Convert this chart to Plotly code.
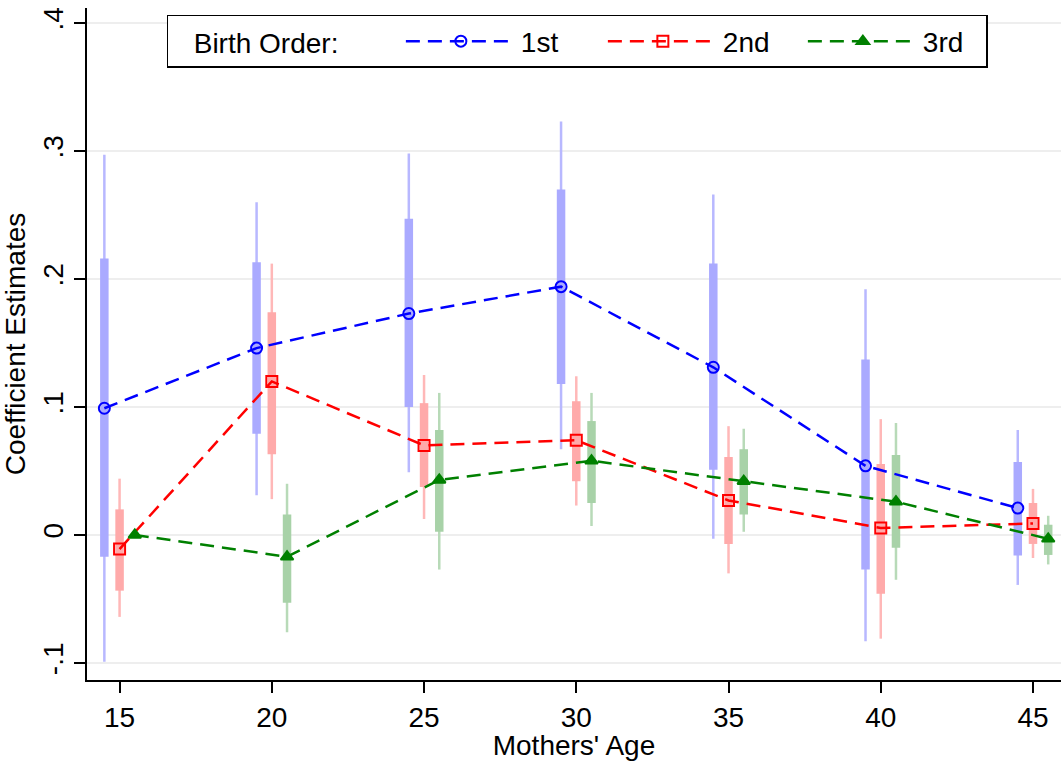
import plotly.graph_objects as go

ages = [15, 20, 25, 30, 35, 40, 45]

first_est = [0.099, 0.146, 0.173, 0.194, 0.131, 0.054, 0.021]
first_hi90 = [0.216, 0.213, 0.247, 0.270, 0.212, 0.137, 0.057]
first_lo90 = [-0.017, 0.079, 0.100, 0.118, 0.051, -0.027, -0.016]
first_hi95 = [0.297, 0.260, 0.298, 0.323, 0.266, 0.192, 0.082]
first_lo95 = [-0.099, 0.031, 0.049, 0.067, -0.003, -0.083, -0.039]

second_est = [-0.011, 0.120, 0.070, 0.074, 0.027, 0.0055, 0.009]
second_hi90 = [0.020, 0.174, 0.103, 0.1045, 0.061, 0.0555, 0.025]
second_lo90 = [-0.0435, 0.063, 0.0375, 0.042, -0.007, -0.046, -0.007]
second_hi95 = [0.044, 0.212, 0.125, 0.124, 0.085, 0.0905, 0.036]
second_lo95 = [-0.064, 0.028, 0.0125, 0.023, -0.030, -0.081, -0.018]

third_est = [0.0, -0.017, 0.043, 0.058, 0.042, 0.026, -0.003]
third_hi90 = [None, 0.016, 0.082, 0.089, 0.067, 0.0625, 0.008]
third_lo90 = [None, -0.053, 0.0025, 0.025, 0.016, -0.010, -0.0156]
third_hi95 = [None, 0.040, 0.111, 0.111, 0.083, 0.0875, 0.015]
third_lo95 = [None, -0.076, -0.027, 0.007, 0.0025, -0.035, -0.023]

y_tickvals = [-0.1, 0, 0.1, 0.2, 0.3, 0.4]
y_ticktext = ["-.1", "0", ".1", ".2", ".3", ".4"]

FONT = "Liberation Sans, Arial, sans-serif"
FS = 28
NB = "\u00a0"

series = [
    dict(name="1st", off=-0.5, est=first_est, hi90=first_hi90, lo90=first_lo90,
         hi95=first_hi95, lo95=first_lo95, color="#0000ff",
         c90="#aaaaff", c95="#b8b8ff", symbol="circle-open", lw=77),
    dict(name="2nd", off=0.0, est=second_est, hi90=second_hi90, lo90=second_lo90,
         hi95=second_hi95, lo95=second_lo95, color="#ff0000",
         c90="#ffaaaa", c95="#ffb8b8", symbol="square-open", lw=75),
    dict(name="3rd", off=0.5, est=third_est, hi90=third_hi90, lo90=third_lo90,
         hi95=third_hi95, lo95=third_lo95, color="#008000",
         c90="#a8d2a8", c95="#b8dab8", symbol="triangle-up", lw=58),
]


def segs(xs, lo, hi):
    X, Y = [], []
    for x, a, b in zip(xs, lo, hi):
        if a is None or b is None:
            continue
        X += [x, x, None]
        Y += [a, b, None]
    return X, Y


fig = go.Figure()

for s in series:
    xs = [a + s["off"] for a in ages]
    X, Y = segs(xs, s["lo95"], s["hi95"])
    fig.add_trace(go.Scatter(x=X, y=Y, mode="lines", showlegend=False,
                             line=dict(color=s["c95"], width=2.5), hoverinfo="skip"))
    X, Y = segs(xs, s["lo90"], s["hi90"])
    fig.add_trace(go.Scatter(x=X, y=Y, mode="lines", showlegend=False,
                             line=dict(color=s["c90"], width=8.5), hoverinfo="skip"))

for s in series:
    xs = [a + s["off"] for a in ages]
    fig.add_trace(go.Scatter(
        x=xs, y=s["est"], mode="lines+markers", name=s["name"],
        legendwidth=s["lw"],
        line=dict(color=s["color"], width=2.5, dash="14px,8px"),
        marker=dict(symbol=s["symbol"], size=11, color=s["color"],
                    line=dict(color=s["color"], width=2)),
    ))

fig.add_shape(type="line", xref="paper", x0=0, x1=1, yref="y", y0=0, y1=0,
              line=dict(color="#888888", width=2, dash="10px,5px"), layer="below")

fig.update_layout(
    width=1061, height=761,
    margin=dict(l=87, r=0, t=8, b=81),
    paper_bgcolor="white", plot_bgcolor="white",
    font=dict(family=FONT, size=FS, color="black"),
    xaxis=dict(
        range=[13.93, 45.92], tickvals=ages, ticks="outside", ticklen=11,
        tickwidth=1.5, tickcolor="black", showgrid=False, zeroline=False,
        showline=True, linecolor="black", linewidth=2,
        title=dict(text="Mothers' Age", font=dict(size=FS), standoff=4),
        tickfont=dict(size=FS),
    ),
    yaxis=dict(
        range=[-0.1133, 0.4117], tickvals=y_tickvals, ticktext=y_ticktext,
        tickangle=-90, ticks="outside", ticklen=11, tickwidth=1.5, tickcolor="black",
        showgrid=True, gridcolor="#eeeeee", gridwidth=1.5, zeroline=False,
        showline=True, linecolor="black", linewidth=2,
        title=dict(text="Coefficient Estimates", font=dict(size=FS), standoff=6),
        tickfont=dict(size=FS),
    ),
    legend=dict(
        orientation="h", x=0.082, y=0.9896, xanchor="left", yanchor="top",
        bordercolor="black", borderwidth=1.5, bgcolor="white",
        title=dict(text=NB * 3 + "Birth Order:" + NB * 7, side="left", font=dict(size=FS)),
        font=dict(size=FS), itemwidth=110, traceorder="normal",
    ),
)

fig.write_html("out.html")
